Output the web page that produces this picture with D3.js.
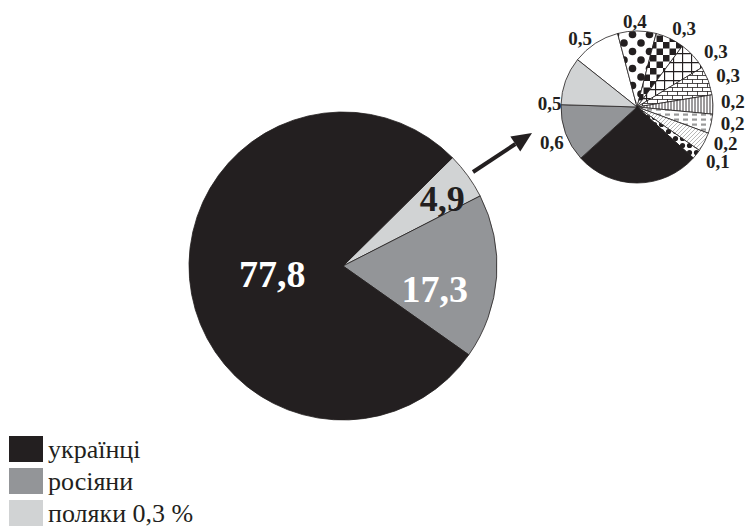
<!DOCTYPE html>
<html>
<head>
<meta charset="utf-8">
<script src="https://cdn.jsdelivr.net/npm/d3@7"></script>
<style>
  body { margin: 0; background: #fff; }
  text { font-family: "Liberation Serif", "Times New Roman", serif; }
</style>
</head>
<body>
<svg id="svg" width="747" height="529"></svg>
<script>
// main pie: other / russians / ukrainians (%)
const mainLabels = ['4,9', '17,3', '77,8']
const mainValues = [4.9, 17.3, 77.8]

// breakdown of the 4.9 % "other" slice
const smallLabels = ['0,5', '0,4', '0,3', '0,3', '0,3', '0,2', '0,2', '0,2', '0,1', '', '0,6', '0,5']
const smallValues = [0.5, 0.4, 0.3, 0.3, 0.3, 0.2, 0.2, 0.2, 0.1, 1.3, 0.6, 0.5]

const legendLabels = ['українці', 'росіяни', 'поляки 0,3 %']

const BLACK = '#231f20', GRAY = '#939598', LIGHT = '#d1d3d4'

const svg = d3.select('#svg')
const defs = svg.append('defs')

// hatch patterns for the small pie
function pattern(id, w, h, draw) {
  const p = defs.append('pattern')
    .attr('id', id)
    .attr('patternUnits', 'userSpaceOnUse')
    .attr('width', w).attr('height', h)
  p.append('rect').attr('width', w).attr('height', h).attr('fill', '#fff')
  draw(p)
  return 'url(#' + id + ')'
}

const dots = pattern('dots', 17, 17, p => {
  p.append('circle').attr('cx', 4).attr('cy', 4).attr('r', 3.8).attr('fill', BLACK)
  p.append('circle').attr('cx', 12.5).attr('cy', 12.5).attr('r', 3.8).attr('fill', BLACK)
})
const checker = pattern('checker', 13, 13, p => {
  p.append('rect').attr('width', 6.5).attr('height', 6.5).attr('fill', BLACK)
  p.append('rect').attr('x', 6.5).attr('y', 6.5).attr('width', 6.5).attr('height', 6.5).attr('fill', BLACK)
})
const grid = pattern('grid', 9, 9, p => {
  p.append('path').attr('d', 'M0,0.5H9M0.5,0V9').attr('stroke', BLACK).attr('stroke-width', 1.3)
})
const brick = pattern('brick', 10, 8, p => {
  p.append('path').attr('d', 'M0,0.5H10M0,4.5H10M0.5,0V4.5M5.5,4.5V8')
    .attr('stroke', BLACK).attr('stroke-width', 0.8).attr('fill', 'none')
})
const vlines = pattern('vlines', 3, 3, p => {
  p.append('path').attr('d', 'M1,0V3').attr('stroke', BLACK).attr('stroke-width', 0.9)
})
const dashes = pattern('dashes', 9, 5, p => {
  p.append('rect').attr('x', 1).attr('y', 1.5).attr('width', 5).attr('height', 2.2).attr('fill', '#9a9a9a')
})
const diag = pattern('diag', 4, 4, p => {
  p.append('path').attr('d', 'M-1,1L1,-1M0,4L4,0M3,5L5,3').attr('stroke', '#9a9a9a').attr('stroke-width', 0.7)
})
const scallop = pattern('scallop', 7, 7, p => {
  p.append('circle').attr('cx', 3.5).attr('cy', 3.5).attr('r', 2.6).attr('fill', BLACK)
})

const mainFills = [LIGHT, GRAY, BLACK]
const mainTextFill = [BLACK, '#fff', '#fff']
const smallFills = ['#fff', dots, checker, grid, brick, vlines, dashes, diag, scallop, BLACK, GRAY, LIGHT]

// main pie
const mc = { x: 343, y: 266 }, mr = 154
const deg = Math.PI / 180
const mainPie = d3.pie().sort(null).value(d => d)
  .startAngle(45.3 * deg).endAngle(45.3 * deg + 2 * Math.PI)
const mainArcs = mainPie(mainValues)
const mainArc = d3.arc().innerRadius(0).outerRadius(mr)

const gMain = svg.append('g').attr('transform', `translate(${mc.x},${mc.y})`)
gMain.selectAll('path')
  .data(mainArcs)
  .enter()
  .append('path')
  .attr('d', mainArc)
  .attr('fill', (d, i) => mainFills[i])
  .attr('stroke', BLACK)
  .attr('stroke-width', 0.8)

const mainLabelR = [120, 92, 71]
const mainNudge = [[2, 3], [0, 16], [0, 2]]
gMain.selectAll('text')
  .data(mainArcs)
  .enter()
  .append('text')
  .attr('x', (d, i) => Math.sin((d.startAngle + d.endAngle) / 2) * mainLabelR[i] + mainNudge[i][0])
  .attr('y', (d, i) => -Math.cos((d.startAngle + d.endAngle) / 2) * mainLabelR[i] + mainNudge[i][1])
  .attr('text-anchor', 'middle')
  .attr('dominant-baseline', 'central')
  .attr('font-weight', 'bold')
  .attr('font-size', (d, i) => i === 0 ? 36 : 38)
  .attr('fill', (d, i) => mainTextFill[i])
  .text((d, i) => mainLabels[i])

// small pie
const sc = { x: 637, y: 107 }, sr = 76
const smallPie = d3.pie().sort(null).value(d => d)
  .startAngle(308.5 * deg).endAngle(308.5 * deg + 2 * Math.PI)
const smallArcs = smallPie(smallValues)
const smallArc = d3.arc().innerRadius(0).outerRadius(sr)

const gSmall = svg.append('g').attr('transform', `translate(${sc.x},${sc.y})`)
gSmall.selectAll('path')
  .data(smallArcs)
  .enter()
  .append('path')
  .attr('d', smallArc)
  .attr('fill', (d, i) => smallFills[i])
  .attr('stroke', BLACK)
  .attr('stroke-width', 0.8)

const smallNudge = [[-6, 9], [-2, 7], [7, 5], [10, 7], [4, 1], [3, -2], [5, -4], [6, -6], [8, -3], [0, 0], [2, 3], [0, 28]]
gSmall.selectAll('text')
  .data(smallArcs)
  .enter()
  .append('text')
  .attr('x', (d, i) => Math.sin((d.startAngle + d.endAngle) / 2) * 93 + smallNudge[i][0])
  .attr('y', (d, i) => -Math.cos((d.startAngle + d.endAngle) / 2) * 93 + smallNudge[i][1])
  .attr('text-anchor', 'middle')
  .attr('dominant-baseline', 'central')
  .attr('font-weight', 'bold')
  .attr('font-size', 19)
  .attr('fill', BLACK)
  .text((d, i) => smallLabels[i])

// arrow from main "other" slice to breakdown
const a0 = [473, 172], a1 = [532, 133]
const ang = Math.atan2(a1[1] - a0[1], a1[0] - a0[0])
const headL = 20, headW = 9
const base = [a1[0] - headL * Math.cos(ang), a1[1] - headL * Math.sin(ang)]
svg.append('line')
  .attr('x1', a0[0]).attr('y1', a0[1])
  .attr('x2', base[0]).attr('y2', base[1])
  .attr('stroke', BLACK).attr('stroke-width', 4)
svg.append('path')
  .attr('d', d3.line()([
    a1,
    [base[0] + headW * Math.sin(ang), base[1] - headW * Math.cos(ang)],
    [base[0] - headW * Math.sin(ang), base[1] + headW * Math.cos(ang)]
  ]) + 'Z')
  .attr('fill', BLACK)

// legend
const legendFills = [BLACK, GRAY, LIGHT]
const legend = svg.append('g').attr('transform', 'translate(9,436)')
const item = legend.selectAll('g')
  .data(legendLabels)
  .enter()
  .append('g')
  .attr('transform', (d, i) => `translate(0,${i * 32})`)
item.append('rect')
  .attr('width', 34).attr('height', 26)
  .attr('fill', (d, i) => legendFills[i])
item.append('text')
  .attr('x', 39).attr('y', 22)
  .attr('font-size', 26)
  .attr('fill', BLACK)
  .text(d => d)
</script>
</body>
</html>
